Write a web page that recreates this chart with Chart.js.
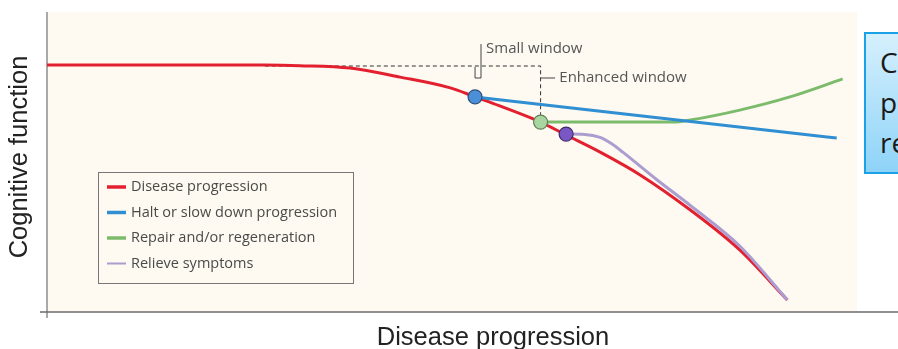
<!DOCTYPE html>
<html><head><meta charset="utf-8">
<script src="https://cdn.jsdelivr.net/npm/chart.js@4.4.1/dist/chart.umd.min.js"></script>
<style>
html,body{margin:0;padding:0;background:#fff;overflow:hidden;}
#wrap{position:relative;width:898px;height:349px;overflow:hidden;}
#note{position:absolute;left:864px;top:32px;width:90px;height:142px;border:2px solid #1ba1e6;background:linear-gradient(#d6f0fd,#8ed3f8);font-family:'Open Sans',sans-serif;font-size:28px;line-height:40px;color:#1a1a1a;padding:8px 0 0 14px;box-sizing:border-box;white-space:nowrap;}
</style></head>
<body>
<div id="wrap">
<canvas id="c" width="898" height="349"></canvas>
<div id="note">C<br>p<br>re</div>
</div>
<script>
// ---- data (abstract units: x 0..100 along disease progression, y 0..100 cognitive function)
const seriesLabels = ['Disease progression', 'Halt or slow down progression', 'Repair and/or regeneration', 'Relieve symptoms'];
const seriesColors = ['#e3202f', '#2f8fd2', '#7dbb6c', '#ab9dd0'];
const diseaseX = [0, 25.6, 29.7, 35.6, 41.5, 47.4, 50.3, 53.2, 58.0, 61.0, 65.0, 69.7, 75.6, 81.4, 87.0];
const diseaseY = [82.3, 82.3, 82.1, 81.3, 78.3, 74.7, 71.7, 68.7, 63.3, 59.0, 53.3, 45.7, 34.0, 20.7, 4.0];
const haltX = [50.3, 92.8];
const haltY = [71.7, 58.0];
const repairX = [58.0, 59.1, 66.0, 73.6, 75.6, 81.4, 87.3, 93.5];
const repairY = [63.3, 63.3, 63.3, 63.3, 64.0, 67.3, 71.7, 77.7];
const relieveX = [61.0, 63.2, 65.0, 66.4, 67.7, 71.7, 75.6, 81.4, 87.0];
const relieveY = [59.3, 59.2, 58.2, 56.0, 53.2, 44.0, 35.5, 22.0, 4.0];
const annotationTexts = ['Small window', 'Enhanced window'];
const axisTitles = ['Disease progression', 'Cognitive function'];

const pts = (xs, ys) => xs.map((x, i) => ({x, y: ys[i]}));
const markerFill = ['#4a8fd8', '#a9d6a0', '#7a57c4'];
const markerStroke = ['#2d4f78', '#5e7f56', '#3d2d6a'];

const decor = {
  id: 'decor',
  beforeDatasetsDraw(chart) {
    const {ctx, chartArea: a, scales: {x, y}} = chart;
    ctx.save();
    // cream plot background
    ctx.fillStyle = '#fefaf1';
    ctx.fillRect(a.left, a.top, x.getPixelForValue(95.2) - a.left, a.bottom - a.top);
    // axes
    ctx.strokeStyle = '#a9a9a9'; ctx.lineWidth = 2;
    ctx.beginPath(); ctx.moveTo(a.left, a.top); ctx.lineTo(a.left, a.bottom + 6); ctx.stroke();
    ctx.strokeStyle = '#6a6a6a'; ctx.lineWidth = 1.5;
    ctx.beginPath(); ctx.moveTo(a.left - 7, a.bottom); ctx.lineTo(a.right, a.bottom); ctx.stroke();
    // dashed window lines
    ctx.strokeStyle = '#333'; ctx.lineWidth = 1; ctx.setLineDash([4, 3]);
    ctx.beginPath();
    ctx.moveTo(x.getPixelForValue(25.6), y.getPixelForValue(82.0));
    ctx.lineTo(x.getPixelForValue(58.0), y.getPixelForValue(82.0));
    ctx.lineTo(x.getPixelForValue(58.0), y.getPixelForValue(65.7));
    ctx.stroke();
    ctx.setLineDash([]);
    ctx.strokeStyle = '#444';
    // small window bracket
    ctx.beginPath();
    ctx.moveTo(x.getPixelForValue(50.3), y.getPixelForValue(81.7));
    ctx.lineTo(x.getPixelForValue(50.3), y.getPixelForValue(78.0));
    ctx.lineTo(x.getPixelForValue(51.0), y.getPixelForValue(78.0));
    ctx.lineTo(x.getPixelForValue(51.0), y.getPixelForValue(89.3));
    ctx.stroke();
    // enhanced window tick
    ctx.beginPath();
    ctx.moveTo(x.getPixelForValue(58.0), y.getPixelForValue(78.0));
    ctx.lineTo(x.getPixelForValue(59.7), y.getPixelForValue(78.0));
    ctx.stroke();
    ctx.fillStyle = '#555';
    ctx.font = '15px "Open Sans"';
    ctx.textBaseline = 'middle'; ctx.textAlign = 'left';
    ctx.fillText(annotationTexts[0], x.getPixelForValue(51.6), y.getPixelForValue(87.7));
    ctx.fillText(annotationTexts[1], x.getPixelForValue(60.2), y.getPixelForValue(78.0));
    ctx.restore();
  },
  afterDatasetsDraw(chart) {
    const {ctx} = chart;
    ctx.save();
    // legend box
    ctx.strokeStyle = '#777'; ctx.lineWidth = 1;
    ctx.strokeRect(98.5, 172.5, 255, 111);
    ctx.font = '14.5px "Open Sans"'; ctx.fillStyle = '#4a4a4a';
    ctx.textBaseline = 'middle'; ctx.textAlign = 'left';
    chart.data.datasets.forEach((ds, i) => {
      const yy = 187 + i * 25.5;
      ctx.strokeStyle = ds.borderColor; ctx.lineWidth = i === 3 ? 2 : 3.5;
      ctx.beginPath(); ctx.moveTo(107, yy); ctx.lineTo(126, yy); ctx.stroke();
      ctx.fillText(ds.label, 131, yy);
    });
    // axis titles
    ctx.fillStyle = '#222'; ctx.font = '25.5px "Liberation Sans"';
    ctx.textAlign = 'center';
    ctx.fillText(axisTitles[0], 493, 338);
    ctx.translate(20, 157); ctx.rotate(-Math.PI / 2);
    ctx.fillText(axisTitles[1], 0, 0);
    ctx.restore();
  }
};

const markerRadius = ctx => ctx.dataIndex === 0 ? 7 : 0;

new Chart(document.getElementById('c'), {
  type: 'line',
  data: {
    datasets: [
      {label: seriesLabels[0], data: pts(diseaseX, diseaseY), borderColor: seriesColors[0], borderWidth: 3, pointRadius: 0, order: 4},
      {label: seriesLabels[1], data: pts(haltX, haltY), borderColor: seriesColors[1], borderWidth: 3, pointRadius: markerRadius,
        pointBackgroundColor: markerFill[0], pointBorderColor: markerStroke[0], pointBorderWidth: 1.2, order: 1},
      {label: seriesLabels[2], data: pts(repairX, repairY), borderColor: seriesColors[2], borderWidth: 3, pointRadius: markerRadius,
        pointBackgroundColor: markerFill[1], pointBorderColor: markerStroke[1], pointBorderWidth: 1.2, order: 2},
      {label: seriesLabels[3], data: pts(relieveX, relieveY), borderColor: seriesColors[3], borderWidth: 3, pointRadius: markerRadius,
        pointBackgroundColor: markerFill[2], pointBorderColor: markerStroke[2], pointBorderWidth: 1.2, order: 3}
    ]
  },
  options: {
    responsive: false, animation: false,
    layout: {autoPadding: false, padding: {left: 47, right: 0, top: 12, bottom: 37}},
    elements: {line: {cubicInterpolationMode: 'monotone', fill: false}},
    scales: {
      x: {type: 'linear', min: 0, max: 100, display: false},
      y: {type: 'linear', min: 0, max: 100, display: false}
    },
    plugins: {legend: {display: false}, tooltip: {enabled: false}},
    events: []
  },
  plugins: [decor]
});
</script>
</body></html>
